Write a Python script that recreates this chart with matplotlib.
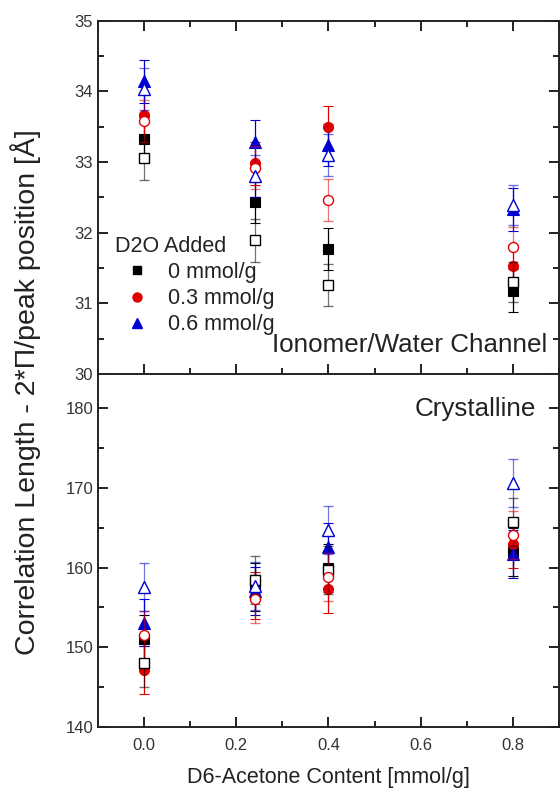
import matplotlib
matplotlib.use("Agg")
import matplotlib.pyplot as plt
from matplotlib.lines import Line2D
from matplotlib.ticker import MultipleLocator

plt.rcParams['font.family'] = ['Liberation Sans', 'DejaVu Sans']

# D6-acetone content for every measurement [mmol/g]
acetone = [0.0, 0.24, 0.4, 0.8]

# Ionomer/water channel correlation length [Å]
chan_0_fill = [33.33, 32.43, 31.77, 31.18]
chan_3_fill = [33.67, 32.98, 33.49, 31.53]
chan_6_fill = [34.14, 33.29, 33.24, 32.33]
chan_0_open = [33.05, 31.89, 31.26, 31.30]
chan_3_open = [33.58, 32.92, 32.46, 31.80]
chan_6_open = [34.03, 32.80, 33.10, 32.39]
chan_err_fill = [0.30, 0.30, 0.30, 0.30]
chan_err_open = [0.30, 0.30, 0.30, 0.28]

# Crystalline correlation length [Å]
cryst_0_fill = [151.0, 157.6, 160.0, 162.0]
cryst_3_fill = [147.2, 156.5, 157.3, 163.0]
cryst_6_fill = [153.1, 157.1, 162.6, 161.7]
cryst_0_open = [148.0, 158.4, 159.7, 165.7]
cryst_3_open = [151.5, 156.1, 158.8, 164.1]
cryst_6_open = [157.6, 157.7, 164.7, 170.6]
cryst_err_fill = [3.0, 3.0, 3.0, 3.0]
cryst_err_open = [3.0, 3.0, 3.0, 3.0]

series_labels = ["0 mmol/g", "0.3 mmol/g", "0.6 mmol/g"]
colors = ["#000000", "#e00000", "#0000d0"]
markers = ["s", "o", "^"]
msizes = [6.5, 7.2, 8.0]

fig = plt.figure(figsize=(5.6, 7.92), dpi=100)
ax_top = fig.add_axes([0.175, 0.5278, 0.823, 0.4461])
ax_bot = fig.add_axes([0.175, 0.0821, 0.823, 0.4457])


def draw_panel(ax, fills, opens, err_f, err_o):
    for vals, c, m, ms in zip(fills, colors, markers, msizes):
        ax.errorbar(acetone, vals, yerr=err_f, fmt=m, color=c, ms=ms,
                    mfc=c, mec=c, mew=0.8, elinewidth=0.9, capsize=3.6,
                    capthick=0.9, zorder=3)
    for vals, c, m, ms in zip(opens, colors, markers, msizes):
        eb = ax.errorbar(acetone, vals, yerr=err_o, fmt=m, color=c, ms=ms,
                         mfc="white", mec=c, mew=1.0, elinewidth=0.9,
                         capsize=3.6, capthick=0.9, zorder=4)
        for ln in eb[1]:
            ln.set_alpha(0.55)
        for coll in eb[2]:
            coll.set_alpha(0.55)


draw_panel(ax_top, [chan_0_fill, chan_3_fill, chan_6_fill],
           [chan_0_open, chan_3_open, chan_6_open], chan_err_fill, chan_err_open)
draw_panel(ax_bot, [cryst_0_fill, cryst_3_fill, cryst_6_fill],
           [cryst_0_open, cryst_3_open, cryst_6_open], cryst_err_fill, cryst_err_open)

for ax in (ax_top, ax_bot):
    ax.set_xlim(-0.1, 0.9)
    ax.xaxis.set_major_locator(MultipleLocator(0.2))
    ax.xaxis.set_minor_locator(MultipleLocator(0.1))
    for s in ax.spines.values():
        s.set_linewidth(1.4)
        s.set_color("#222222")
    ax.tick_params(which="both", direction="in", right=True, width=1.4,
                   colors="#222222", labelsize=12, labelcolor="#333333")
    ax.tick_params(which="major", length=7)
    ax.tick_params(which="minor", length=4)

ax_top.set_ylim(30, 35)
ax_top.yaxis.set_major_locator(MultipleLocator(1))
ax_top.yaxis.set_minor_locator(MultipleLocator(0.5))
ax_top.tick_params(which="both", top=True, bottom=True, labelbottom=False)
ax_top.spines["bottom"].set_visible(False)

ax_bot.set_ylim(140, 184.3)
ax_bot.yaxis.set_major_locator(MultipleLocator(10))
ax_bot.yaxis.set_minor_locator(MultipleLocator(5))
ax_bot.tick_params(which="both", top=False)
ax_bot.tick_params(axis="x", pad=8)

ax_bot.set_xlabel("D6-Acetone Content [mmol/g]", fontsize=15.5,
                  color="#222222", labelpad=10)
fig.text(0.046, 0.505, "Correlation Length - 2*Π/peak position [Å]",
         rotation=90, ha="center", va="center", fontsize=20.5, color="#222222")

ax_top.text(0.974, 0.082, "Ionomer/Water Channel", transform=ax_top.transAxes,
            ha="right", va="center", fontsize=18.7, color="#222222")
ax_bot.text(0.951, 0.9, "Crystalline", transform=ax_bot.transAxes,
            ha="right", va="center", fontsize=18.7, color="#222222")

handles = [Line2D([], [], ls="none", marker=m, color=c, mfc=c, mec=c, ms=ms * 0.9)
           for c, m, ms in zip(colors, markers, msizes)]
leg = ax_top.legend(handles, series_labels, title="D2O Added", frameon=False,
                    loc="upper left", bbox_to_anchor=(0.0, 0.44),
                    fontsize=15.5, title_fontsize=15.5, handlelength=2.0,
                    handletextpad=0.45, labelspacing=0.24, borderpad=0.3,
                    alignment="left")
for t in leg.get_texts():
    t.set_color("#222222")
leg.get_title().set_color("#222222")

fig.savefig("out.png", dpi=100)
